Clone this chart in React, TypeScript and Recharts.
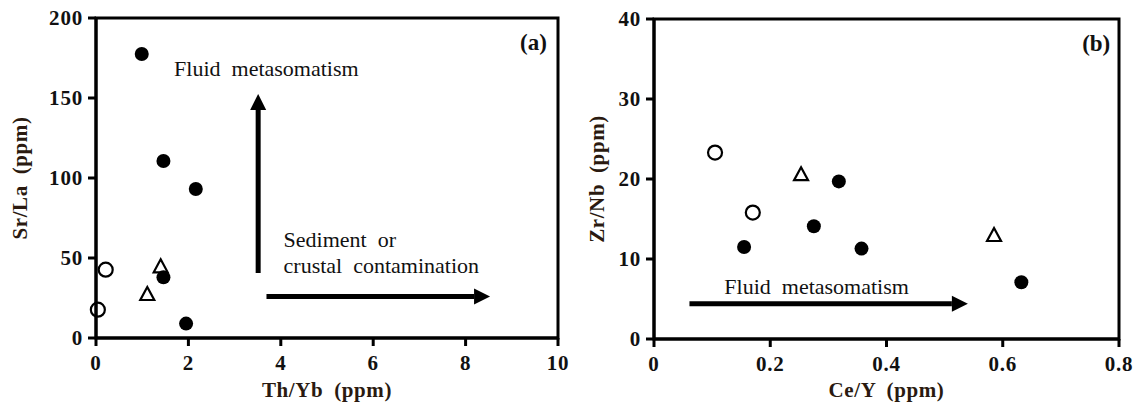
import React from "react";
import {
  ScatterChart,
  Scatter,
  XAxis,
  YAxis,
  ReferenceArea,
  ReferenceLine,
  ReferenceDot,
  Label,
} from "recharts";

// panel (a): Th/Yb vs Sr/La
const aFilledX = [0.99, 1.46, 2.16, 1.46, 1.95];
const aFilledY = [177.5, 110.6, 93.1, 37.9, 9.0];
const aOpenX = [0.04, 0.21];
const aOpenY = [17.7, 42.7];
const aTriX = [1.11, 1.4];
const aTriY = [27.5, 44.8];
const aTicksX = [0, 2, 4, 6, 8, 10];
const aTicksY = [0, 50, 100, 150, 200];

// panel (b): Ce/Y vs Zr/Nb
const bFilledX = [0.318, 0.275, 0.155, 0.357, 0.632];
const bFilledY = [19.7, 14.1, 11.5, 11.3, 7.1];
const bOpenX = [0.105, 0.17];
const bOpenY = [23.3, 15.8];
const bTriX = [0.253, 0.585];
const bTriY = [20.6, 13.0];
const bTicksX = [0, 0.2, 0.4, 0.6, 0.8];
const bTicksY = [0, 10, 20, 30, 40];

const pts = (xs: number[], ys: number[]) => xs.map((x, i) => ({ x, y: ys[i] }));

const FONT = "'Liberation Serif', 'Times New Roman', serif";
const INK = "#000";
const LABEL_INK = "#2a1a10";

const tickStyle = { fill: "#111", fontSize: 21, fontWeight: "bold", fontFamily: FONT, letterSpacing: 0.8 };
const axisLine = { stroke: INK, strokeWidth: 3 };
const tickLine = { stroke: INK, strokeWidth: 3 };
const labelStyle = {
  fontFamily: FONT,
  fontSize: 21,
  fontWeight: "bold",
  fill: LABEL_INK,
  letterSpacing: 0.6,
  wordSpacing: 5,
};

const FilledCircle = (p: any) => <circle cx={p.cx} cy={p.cy} r={7} fill={INK} />;
const OpenCircle = (p: any) => (
  <circle cx={p.cx} cy={p.cy} r={7} fill="none" stroke={INK} strokeWidth={2.2} />
);
const Triangle = (p: any) => {
  const { cx, cy } = p;
  const d = `M${cx},${cy - 7} L${cx + 7},${cy + 6} L${cx - 7},${cy + 6} Z`;
  return <path d={d} fill="none" stroke={INK} strokeWidth={2.2} />;
};

const Arrow = (p: any) => {
  const { x1, y1, x2, y2 } = p;
  const dx = x2 - x1;
  const dy = y2 - y1;
  const len = Math.sqrt(dx * dx + dy * dy) || 1;
  const ux = dx / len;
  const uy = dy / len;
  const head = 16;
  const half = 8;
  const bx = x2 - ux * head;
  const by = y2 - uy * head;
  const px = -uy;
  const py = ux;
  return (
    <g>
      <line x1={x1} y1={y1} x2={bx} y2={by} stroke={INK} strokeWidth={5} />
      <polygon
        points={`${x2},${y2} ${bx + px * half},${by + py * half} ${bx - px * half},${by - py * half}`}
        fill={INK}
      />
    </g>
  );
};

const note = (text: string, anchor: "start" | "end" = "start", bold = false, size = 22) => (p: any) => (
  <text
    x={p.cx}
    y={p.cy}
    textAnchor={anchor}
    dominantBaseline="central"
    fontFamily={FONT}
    fontSize={size}
    fontWeight={bold ? "bold" : "normal"}
    fill="#111"
    style={{ whiteSpace: "pre" }}
  >
    {text}
  </text>
);

function PanelA() {
  return (
    <ScatterChart width={570} height={405} margin={{ top: 18, right: 12, bottom: 0, left: 0 }}>
      <XAxis
        type="number"
        dataKey="x"
        domain={[0, 10]}
        ticks={aTicksX}
        interval={0}
        height={67}
        tickSize={8}
        tickMargin={9}
        axisLine={axisLine}
        tickLine={tickLine}
        tick={tickStyle}
      >
        <Label value="Th/Yb (ppm)" position="insideBottom" offset={8} style={labelStyle} />
      </XAxis>
      <YAxis
        type="number"
        dataKey="y"
        domain={[0, 200]}
        ticks={aTicksY}
        interval={0}
        width={96}
        tickSize={8}
        tickMargin={5}
        axisLine={axisLine}
        tickLine={tickLine}
        tick={tickStyle}
      >
        <Label
          value="Sr/La (ppm)"
          angle={-90}
          position="insideLeft"
          offset={20}
          style={{ ...labelStyle, textAnchor: "middle" }}
        />
      </YAxis>
      <ReferenceArea x1={0} x2={10} y1={0} y2={200} fill="none" stroke={INK} strokeWidth={3} />
      <ReferenceLine segment={[{ x: 3.51, y: 40.6 }, { x: 3.51, y: 152.5 }]} shape={Arrow} />
      <ReferenceLine segment={[{ x: 3.69, y: 26 }, { x: 8.53, y: 26 }]} shape={Arrow} />
      <ReferenceDot x={1.69} y={168.7} r={0} shape={note("Fluid  metasomatism")} />
      <ReferenceDot x={4.06} y={61.3} r={0} shape={note("Sediment  or")} />
      <ReferenceDot x={4.06} y={45.2} r={0} shape={note("crustal  contamination")} />
      <ReferenceDot x={9.76} y={185} r={0} shape={note("(a)", "end", true, 23)} />
      <Scatter data={pts(aOpenX, aOpenY)} shape={OpenCircle} isAnimationActive={false} />
      <Scatter data={pts(aTriX, aTriY)} shape={Triangle} isAnimationActive={false} />
      <Scatter data={pts(aFilledX, aFilledY)} shape={FilledCircle} isAnimationActive={false} />
    </ScatterChart>
  );
}

function PanelB() {
  return (
    <ScatterChart width={570} height={405} margin={{ top: 19, right: 21, bottom: 0, left: 0 }}>
      <XAxis
        type="number"
        dataKey="x"
        domain={[0, 0.8]}
        ticks={bTicksX}
        interval={0}
        height={66}
        tickSize={8}
        tickMargin={9}
        axisLine={axisLine}
        tickLine={tickLine}
        tick={tickStyle}
      >
        <Label value="Ce/Y (ppm)" position="insideBottom" offset={8} style={labelStyle} />
      </XAxis>
      <YAxis
        type="number"
        dataKey="y"
        domain={[0, 40]}
        ticks={bTicksY}
        interval={0}
        width={84}
        tickSize={8}
        tickMargin={5}
        axisLine={axisLine}
        tickLine={tickLine}
        tick={tickStyle}
      >
        <Label
          value="Zr/Nb (ppm)"
          angle={-90}
          position="insideLeft"
          offset={27}
          style={{ ...labelStyle, textAnchor: "middle" }}
        />
      </YAxis>
      <ReferenceArea x1={0} x2={0.8} y1={0} y2={40} fill="none" stroke={INK} strokeWidth={3} />
      <ReferenceLine segment={[{ x: 0.061, y: 4.4 }, { x: 0.54, y: 4.4 }]} shape={Arrow} />
      <ReferenceDot x={0.121} y={6.6} r={0} shape={note("Fluid  metasomatism")} />
      <ReferenceDot x={0.785} y={37} r={0} shape={note("(b)", "end", true, 23)} />
      <Scatter data={pts(bOpenX, bOpenY)} shape={OpenCircle} isAnimationActive={false} />
      <Scatter data={pts(bTriX, bTriY)} shape={Triangle} isAnimationActive={false} />
      <Scatter data={pts(bFilledX, bFilledY)} shape={FilledCircle} isAnimationActive={false} />
    </ScatterChart>
  );
}

export default function App() {
  return (
    <div
      style={{
        position: "absolute",
        left: 0,
        top: 0,
        width: 1140,
        height: 405,
        background: "#fff",
        display: "flex",
      }}
    >
      <PanelA />
      <PanelB />
    </div>
  );
}
